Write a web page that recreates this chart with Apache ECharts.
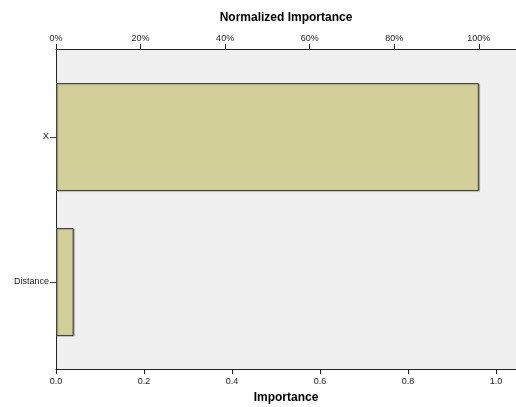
<!DOCTYPE html>
<html>
<head>
<meta charset="utf-8">
<script src="https://cdn.jsdelivr.net/npm/echarts@6/dist/echarts.min.js"></script>
<style>html,body{margin:0;padding:0;background:#fff}#c{width:516px;height:407px}</style>
</head>
<body>
<div id="c"></div>
<script>
var categories = ['X', 'Distance'];
var importance = [0.961, 0.040];
var bottomTicks = [0, 0.2, 0.4, 0.6, 0.8, 1.0];
var topTicks = [0, 20, 40, 60, 80, 100];
var axisMax = 1.0455;

var maxImp = Math.max.apply(null, importance);
var pctMax = axisMax / maxImp * 100;
var font = 'Liberation Sans, Arial, sans-serif';
var lineColor = '#222';

var chart = echarts.init(document.getElementById('c'), null, {renderer: 'canvas'});
chart.setOption({
  animation: false,
  grid: [
    {left: 56, right: 0, top: 49, bottom: 38, show: true, backgroundColor: '#f0f0f0', borderWidth: 0,
      containLabel: false, outerBoundsMode: 'none'},
    {left: 56, right: 0, top: 64.5, bottom: 52.5, show: false, containLabel: false, outerBoundsMode: 'none'}
  ],
  xAxis: [
    {
      gridIndex: 0, type: 'value', position: 'bottom', min: 0, max: axisMax,
      name: 'Importance', nameLocation: 'middle', nameGap: 23,
      nameTextStyle: {fontFamily: font, fontWeight: 'bold', fontSize: 12, color: '#000'},
      axisLine: {show: true, lineStyle: {color: lineColor, width: 1}},
      axisTick: {show: true, length: 5, customValues: bottomTicks, lineStyle: {color: lineColor}},
      axisLabel: {customValues: bottomTicks, fontFamily: font, fontSize: 9, color: '#222', margin: 8,
        formatter: function (v) { return v.toFixed(1); }},
      splitLine: {show: false}
    },
    {
      gridIndex: 0, type: 'value', position: 'top', min: 0, max: pctMax,
      name: 'Normalized Importance', nameLocation: 'middle', nameGap: 25,
      nameTextStyle: {fontFamily: font, fontWeight: 'bold', fontSize: 12, color: '#000'},
      axisLine: {show: true, lineStyle: {color: lineColor, width: 1}},
      axisTick: {show: true, length: 5, customValues: topTicks, lineStyle: {color: lineColor}},
      axisLabel: {customValues: topTicks, fontFamily: font, fontSize: 9, color: '#222', margin: 6,
        formatter: function (v) { return v + '%'; }},
      splitLine: {show: false}
    },
    {
      gridIndex: 1, type: 'value', min: 0, max: axisMax, show: false
    }
  ],
  yAxis: [
    {
      gridIndex: 0, type: 'value', min: 0, max: 1,
      axisLine: {show: true, lineStyle: {color: lineColor, width: 1}},
      axisTick: {show: false}, axisLabel: {show: false}, splitLine: {show: false}
    },
    {
      gridIndex: 1, type: 'category', data: categories, inverse: true,
      axisLine: {show: false},
      axisTick: {show: true, alignWithLabel: true, length: 6, lineStyle: {color: '#444'}},
      axisLabel: {fontFamily: font, fontSize: 9, color: '#222', margin: 7},
      splitLine: {show: false}
    }
  ],
  series: [
    {
      type: 'bar', xAxisIndex: 2, yAxisIndex: 1, data: importance,
      barWidth: 108,
      itemStyle: {color: '#d3cf98', borderColor: '#444', borderWidth: 1,
        shadowColor: 'rgba(0,0,0,0.35)', shadowOffsetX: 1, shadowOffsetY: 0.5, shadowBlur: 1}
    }
  ]
});
</script>
</body>
</html>
